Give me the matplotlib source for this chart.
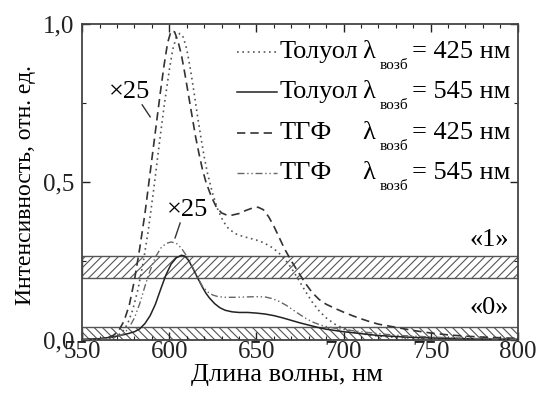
import numpy as np
import matplotlib
matplotlib.use('Agg')
import matplotlib.pyplot as plt
from matplotlib.ticker import MultipleLocator, FuncFormatter

plt.rcParams['font.family'] = ['Liberation Serif', 'DejaVu Serif']
plt.rcParams['hatch.linewidth'] = 0.8
plt.rcParams['hatch.color'] = '#555555'

# Толуол, возбуждение 425 нм (точки)
tol425_x = [550, 560, 565, 570, 573, 576, 579, 582, 585, 588, 591, 594, 597, 600, 602, 604, 606, 608,
            610, 612, 614, 616, 618, 620, 622, 625, 628, 631, 634, 638, 642, 646, 650, 654, 658, 662,
            666, 670, 674, 678, 682, 686, 690, 695, 700, 705, 710, 720, 730, 740, 760, 780, 800]
tol425_y = [0.0, 0.002, 0.005, 0.012, 0.025, 0.05, 0.095, 0.16, 0.245, 0.35, 0.475, 0.61, 0.74, 0.855,
            0.92, 0.958, 0.97, 0.958, 0.92, 0.86, 0.79, 0.715, 0.645, 0.58, 0.525, 0.46, 0.41, 0.375,
            0.352, 0.336, 0.328, 0.322, 0.316, 0.308, 0.296, 0.28, 0.258, 0.228, 0.192, 0.155, 0.12,
            0.092, 0.07, 0.05, 0.036, 0.027, 0.02, 0.012, 0.008, 0.006, 0.003, 0.002, 0.001]

# Толуол, возбуждение 545 нм (сплошная)
tol545_x = [550, 560, 568, 575, 580, 583, 586, 589, 592, 595, 598, 601, 604, 607, 609, 611, 613, 615,
            617, 619, 621, 623, 626, 629, 632, 636, 640, 645, 650, 655, 660, 665, 670, 675, 680, 685,
            690, 695, 700, 710, 720, 730, 740, 760, 780, 800]
tol545_y = [0.002, 0.004, 0.01, 0.018, 0.026, 0.035, 0.052, 0.077, 0.113, 0.16, 0.205, 0.24, 0.26, 0.268,
            0.265, 0.252, 0.232, 0.21, 0.188, 0.167, 0.148, 0.133, 0.115, 0.102, 0.094, 0.089, 0.087,
            0.087, 0.085, 0.082, 0.077, 0.07, 0.062, 0.054, 0.047, 0.04, 0.034, 0.03, 0.026, 0.02,
            0.014, 0.011, 0.008, 0.005, 0.003, 0.002]

# ТГФ, возбуждение 425 нм (штрих)
thf425_x = [550, 560, 565, 568, 571, 574, 577, 580, 583, 586, 589, 592, 595, 597, 599, 601, 603, 605,
            607, 609, 611, 613, 615, 617, 619, 621, 624, 627, 630, 633, 636, 640, 644, 648, 651, 654,
            657, 660, 663, 666, 670, 674, 678, 682, 686, 690, 695, 700, 705, 710, 715, 720, 730, 740,
            750, 760, 770, 780, 790, 800]
thf425_y = [0.0, 0.003, 0.008, 0.015, 0.03, 0.06, 0.11, 0.19, 0.29, 0.4, 0.53, 0.66, 0.79, 0.87, 0.94,
            0.978, 0.975, 0.945, 0.9, 0.84, 0.775, 0.71, 0.645, 0.59, 0.54, 0.5, 0.455, 0.42, 0.402,
            0.395, 0.395, 0.4, 0.41, 0.418, 0.42, 0.412, 0.39, 0.36, 0.325, 0.29, 0.25, 0.215, 0.18,
            0.15, 0.128, 0.113, 0.1, 0.088, 0.077, 0.067, 0.058, 0.05, 0.04, 0.03, 0.022, 0.016, 0.012,
            0.009, 0.007, 0.005]

# ТГФ, возбуждение 545 нм (штрих-пунктир)
thf545_x = [550, 560, 565, 570, 574, 577, 580, 583, 586, 589, 592, 595, 598, 601, 604, 607, 610, 613,
            616, 619, 622, 625, 628, 632, 638, 644, 650, 655, 659, 663, 667, 671, 675, 679, 683, 687,
            692, 700, 710, 720, 730, 740, 760, 780, 800]
thf545_y = [0.0, 0.002, 0.005, 0.01, 0.02, 0.04, 0.07, 0.115, 0.17, 0.22, 0.262, 0.29, 0.305, 0.31,
            0.306, 0.29, 0.265, 0.235, 0.2, 0.17, 0.152, 0.142, 0.137, 0.135, 0.135, 0.136, 0.137,
            0.136, 0.131, 0.122, 0.11, 0.095, 0.08, 0.066, 0.055, 0.047, 0.04, 0.033, 0.026, 0.02,
            0.015, 0.012, 0.007, 0.004, 0.002]

# уровни «0» и «1»
band1 = (0.195, 0.265)
band0 = (0.0, 0.04)

fig = plt.figure(figsize=(5.41, 3.99), dpi=100)
ax = fig.add_axes([0.152, 0.148, 0.805, 0.792])

ax.axhspan(band1[0], band1[1], facecolor='white', edgecolor='#555555', hatch='////', lw=1.0, zorder=1)
ax.axhspan(band0[0], band0[1], facecolor='white', edgecolor='#555555', hatch='\\\\\\\\', lw=1.0, zorder=1)

st_tol425 = dict(color='#555555', lw=1.2, linestyle=(0, (1, 2.2)))
st_tol545 = dict(color='#222222', lw=1.1, linestyle='-')
st_thf425 = dict(color='#333333', lw=1.2, linestyle=(0, (5, 3)))
st_thf545 = dict(color='#666666', lw=1.0, linestyle=(0, (5, 2, 1, 2, 1, 2)))

ax.plot(tol425_x, tol425_y, zorder=3, **st_tol425)
ax.plot(tol545_x, tol545_y, zorder=3, **st_tol545)
ax.plot(thf425_x, thf425_y, zorder=3, **st_thf425)
ax.plot(thf545_x, thf545_y, zorder=3, **st_thf545)

ax.set_xlim(550, 800)
ax.set_ylim(0, 1.0)
ax.xaxis.set_major_locator(MultipleLocator(50))
ax.xaxis.set_minor_locator(MultipleLocator(10))
ax.yaxis.set_major_locator(MultipleLocator(0.5))
ax.yaxis.set_minor_locator(MultipleLocator(0.25))
ax.yaxis.set_major_formatter(FuncFormatter(lambda v, p: ('%.1f' % v).replace('.', ',')))
ax.tick_params(which='both', direction='in', top=True, right=True, labelsize=18, colors='#222222')
ax.tick_params(which='major', length=6, width=1.0)
ax.tick_params(axis='x', which='major', pad=1)
ax.tick_params(axis='y', which='major', pad=6)
ax.tick_params(which='minor', length=3, width=0.8)
for s in ax.spines.values():
    s.set_color('#444444')
    s.set_linewidth(1.3)

ax.set_xlabel('Длина волны, нм', fontsize=19, va='top')
ax.set_ylabel('Интенсивность, отн. ед.', fontsize=17, va='center')
ax.xaxis.set_label_coords(0.47, -0.075)
ax.yaxis.set_label_coords(-0.131, 0.49)

# легенда вручную
rows = [0.911, 0.785, 0.655, 0.528]
names = ['Толуол', 'Толуол', 'ТГФ', 'ТГФ']
waves = ['425', '545', '425', '545']
styles = [st_tol425, st_tol545, st_thf425, st_thf545]
for yr, nm, wv, st in zip(rows, names, waves, styles):
    ax.plot([0.356, 0.447], [yr, yr], transform=ax.transAxes, clip_on=False, **st)
    ax.text(0.452, yr, nm, transform=ax.transAxes, fontsize=19, va='center', ha='left')
    ax.text(0.642, yr, 'λ', transform=ax.transAxes, fontsize=19, va='center', ha='left')
    ax.text(0.683, yr - 0.042, 'возб', transform=ax.transAxes, fontsize=11, va='center', ha='left')
    ax.text(0.757, yr, '= ' + wv + ' нм', transform=ax.transAxes, fontsize=19, va='center', ha='left')

# подписи ×25
ax.text(577, 0.785, '×25', fontsize=19, ha='center', va='center')
ax.plot([584.4, 589], [0.744, 0.706], color='#333333', lw=1.0)
ax.text(610.2, 0.411, '×25', fontsize=19, ha='center', va='center')
ax.plot([606.2, 603.3], [0.37, 0.323], color='#333333', lw=1.0)

ax.text(795, 0.316, '«1»', fontsize=19, ha='right', va='center')
ax.text(795, 0.10, '«0»', fontsize=19, ha='right', va='center')

fig.savefig('out.png', dpi=100)
